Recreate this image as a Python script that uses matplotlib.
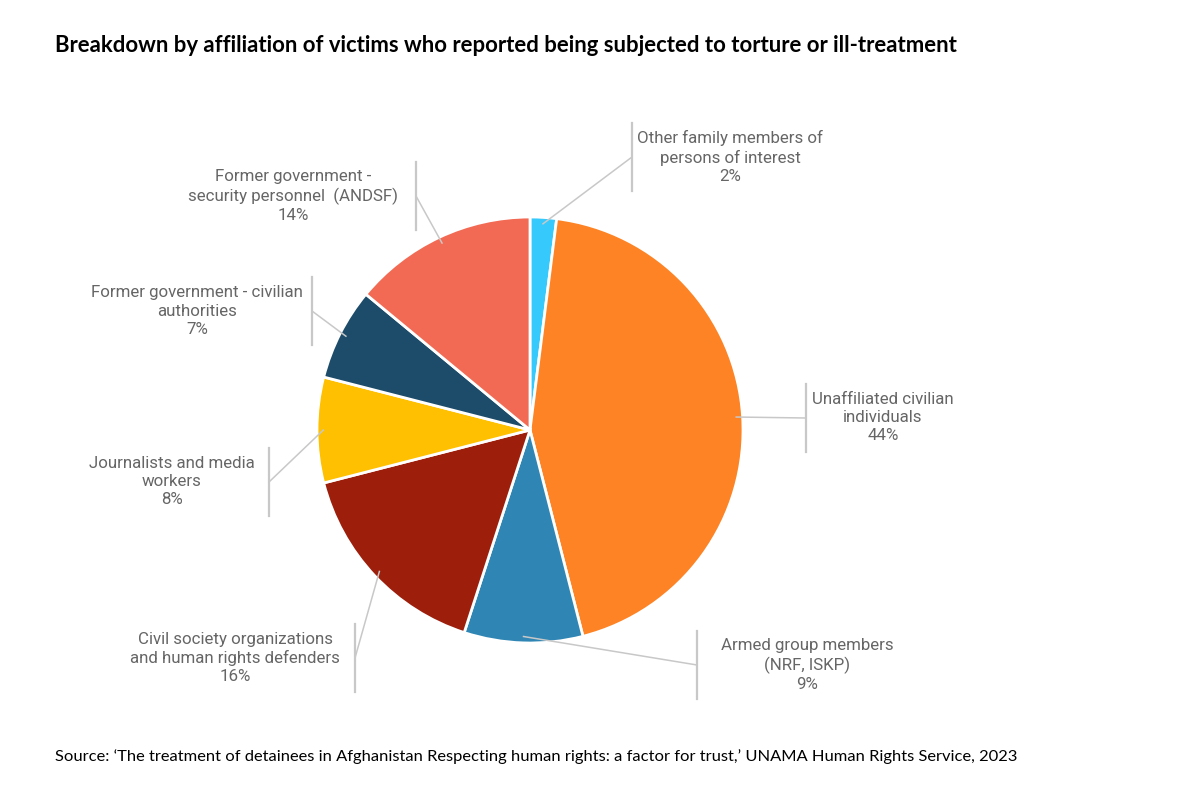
import numpy as np
import matplotlib.pyplot as plt

# Data
categories = [
    "Other family members of\npersons of interest",
    "Unaffiliated civilian\nindividuals",
    "Armed group members\n(NRF, ISKP)",
    "Civil society organizations\nand human rights defenders",
    "Journalists and media\nworkers",
    "Former government - civilian\nauthorities",
    "Former government -\nsecurity personnel  (ANDSF)",
]
shares = [2, 44, 9, 16, 8, 7, 14]
colors = ["#36c9fb", "#fd8324", "#2f86b4", "#9c1e0b", "#fec000", "#1c4c69", "#f26a53"]

# label layout in pixel space (text centre x, text centre y, bar x)
label_pos = [
    (730, 157, 632),
    (883, 418, 806),
    (807, 665, 697),
    (235, 658, 355),
    (172, 482, 269),
    (197, 311, 312),
    (293, 196, 416),
]

W, H = 1200, 794
fig = plt.figure(figsize=(12, 7.94), dpi=100)
ax = fig.add_axes([0, 0, 1, 1])

cx, cy, r = 530, H - 430, 213
wedges, _ = ax.pie(shares, colors=colors, startangle=90, counterclock=False,
                   center=(cx, cy), radius=r, frame=True,
                   wedgeprops=dict(edgecolor="white", linewidth=2))
ax.set_xlim(0, W)
ax.set_ylim(0, H)
ax.set_aspect("equal")
ax.axis("off")

line_col = "#c8c8c8"
text_col = "#666666"
for w, cat, val, (tx, ty, bx) in zip(wedges, categories, shares, label_pos):
    ang = np.deg2rad((w.theta1 + w.theta2) / 2)
    sx = cx + 0.97 * r * np.cos(ang)
    sy = cy + 0.97 * r * np.sin(ang)
    ty_d = H - ty
    ax.plot([bx, bx], [ty_d - 34, ty_d + 34], color=line_col, lw=1.6)
    ax.plot([sx, bx], [sy, ty_d], color=line_col, lw=1.1)
    ax.text(tx, ty_d, f"{cat}\n{val}%", ha="center", va="center",
            fontsize=12.2, family="Roboto", color=text_col, linespacing=1.25)

fig.text(55 / W, 1 - 45 / H,
         "Breakdown by affiliation of victims who reported being subjected to torture or ill-treatment",
         ha="left", va="center", fontsize=15.9, fontweight="bold", family="Lato")
fig.text(55 / W, 1 - 757 / H,
         "Source: \u2018The treatment of detainees in Afghanistan Respecting human rights: a factor for trust,\u2019 UNAMA Human Rights Service, 2023",
         ha="left", va="center", fontsize=11.85, family="Lato")

fig.savefig("out.png", dpi=100)
